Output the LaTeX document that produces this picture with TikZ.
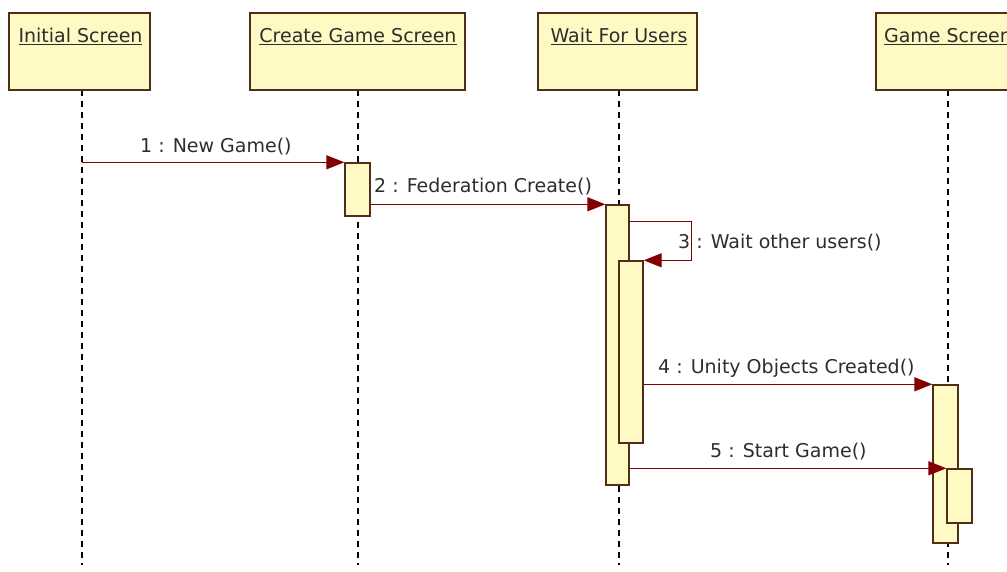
\documentclass[tikz,border=0pt]{standalone}
\usepackage{fontspec}
\setmainfont{DejaVu Sans}
\usetikzlibrary{arrows.meta}
\definecolor{boxfill}{RGB}{255,249,196}
\definecolor{boxline}{RGB}{80,45,20}
\definecolor{msgred}{RGB}{130,0,0}
\definecolor{txt}{RGB}{45,45,45}
\begin{document}
\begin{tikzpicture}[x=1pt,y=-1pt,
  font=\fontsize{19}{22}\selectfont,
  head/.style={draw=boxline, line width=1.6pt, fill=boxfill, inner sep=0pt, minimum height=77pt},
  htxt/.style={text=txt, inner sep=0pt, anchor=base},
  act/.style={draw=boxline, line width=1.4pt, fill=boxfill, inner sep=0pt},
  life/.style={black, line width=1.4pt, dash pattern=on 6pt off 5pt},
  msgline/.style={msgred, line width=1.4pt, -{Triangle[length=18pt,width=14pt]}},
  lbl/.style={text=txt, inner sep=0pt, anchor=west}]
\useasboundingbox (0,0) rectangle (1007,572);
\clip (0,0) rectangle (1007,572);
% lifeline ends
\coordinate (iT) at (82,90);   \coordinate (iB) at (82,565);
\coordinate (cT) at (358,90);  \coordinate (cB) at (358,565);
\coordinate (wT) at (619,90);  \coordinate (wB) at (619,565);
\coordinate (gT) at (948,90);  \coordinate (gB) at (948,565);
\draw[life] (iT) -- (iB);
\draw[life] (cT) -- (cB);
\draw[life] (wT) -- (wB);
\draw[life] (gT) -- (gB);
% heads
\node[head, minimum width=141pt] (ih) at (79.5,51.5) {};
\node[head, minimum width=215pt] (ch) at (357.5,51.5) {};
\node[head, minimum width=159pt] (wh) at (617.5,51.5) {};
\node[head, minimum width=144pt] (gh) at (948,51.5) {};
\node[htxt] (ihT) at (80.5,43) {\underline{Initial Screen}};
\node[htxt] (chT) at (358,43) {\underline{Create Game Screen}};
\node[htxt] (whT) at (619,43) {\underline{Wait For Users}};
\node[htxt] (ghT) at (948,43) {\underline{Game Screen}};
% activations
\node[act, minimum width=25pt, minimum height=53pt] (a1) at (357.5,189.5) {};
\node[act, minimum width=23pt, minimum height=280pt] (a2) at (617.5,345) {};
\node[act, minimum width=24pt, minimum height=182pt] (a3) at (631,352) {};
\node[act, minimum width=25pt, minimum height=158pt] (a4) at (945.5,464) {};
\node[act, minimum width=25pt, minimum height=54pt] (a5) at (959.5,496) {};
% messages
\draw[msgline] (iT |- a1.north west) -- (a1.north west);
\draw[msgline] (a1.east |- a2.north west) -- (a2.north west);
\draw[msgline] ([yshift=-17pt]a2.north east) -- ++(62,0) |- (a3.north east);
\draw[msgline] (a3.east |- a4.north west) -- (a4.north west);
\draw[msgline] (a2.east |- a5.north west) -- (a5.north west);
% labels
\node[lbl] (l1) at (140,147) {1 : New Game()};
\node[lbl] (l2) at (374,187) {2 : Federation Create()};
\node[lbl] (l3) at (678,243) {3 : Wait other users()};
\node[lbl] (l4) at (658,368) {4 : Unity Objects Created()};
\node[lbl] (l5) at (710,452) {5 : Start Game()};
\end{tikzpicture}
\end{document}
